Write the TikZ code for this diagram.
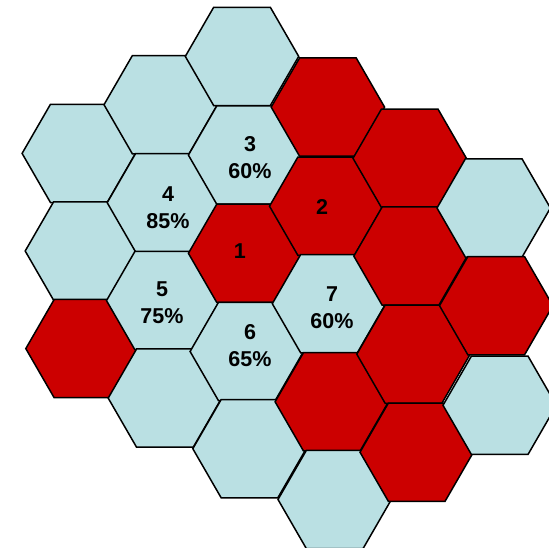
\documentclass[tikz,border=0pt]{standalone}
\usepackage{fontspec}
\setsansfont{Liberation Sans}
\usetikzlibrary{shapes.geometric}
\definecolor{cool}{HTML}{BAE0E3}
\definecolor{hot}{HTML}{CC0000}

\begin{document}
\begin{tikzpicture}[
  x=1pt, y=-1pt,
  every node/.style={font=\sffamily\bfseries},
  cell/.style={
    regular polygon, regular polygon sides=6,
    minimum size=113.4pt, inner sep=0pt, outer sep=0pt,
    draw=black, line width=1.5pt,
  },
  coolcell/.style={cell, fill=cool},
  hotcell/.style={cell, fill=hot},
  pct/.style={
    align=center, text=black, inner sep=0pt,
    font=\sffamily\bfseries\fontsize{21.5}{27}\selectfont,
  },
]
  \useasboundingbox (0,0) rectangle (549,548);

  % column A
  \node[coolcell] (hA1) at (78.8, 153.4) {};
  \node[coolcell] (hA2) at (81.9, 251.0) {};
  \node[hotcell]  (hA3) at (82.5, 348.6) {};

  % column B
  \node[coolcell] (hB1) at (160.7, 104.7) {};
  \node[coolcell] (hB2) at (163.9, 202.7) {};
  \node[coolcell] (hB3) at (163.2, 300.6) {};
  \node[coolcell] (hB4) at (164.9, 398.1) {};

  % column C
  \node[coolcell] (hC1) at (242.0,  56.4) {};
  \node[coolcell] (hC2) at (245.1, 155.1) {};
  \node[hotcell]  (hC3) at (245.1, 253.3) {};
  \node[coolcell] (hC4) at (246.8, 351.5) {};
  \node[coolcell] (hC5) at (249.5, 448.7) {};

  % column D
  \node[hotcell]  (hD1) at (327.9, 107.1) {};
  \node[hotcell]  (hD2) at (326.2, 206.2) {};
  \node[coolcell] (hD3) at (329.0, 303.7) {};
  \node[hotcell]  (hD4) at (331.8, 401.8) {};
  \node[coolcell] (hD5) at (334.7, 499.5) {};

  % column E
  \node[hotcell]  (hE1) at (409.7, 158.3) {};
  \node[hotcell]  (hE2) at (410.5, 256.1) {};
  \node[hotcell]  (hE3) at (413.5, 354.2) {};
  \node[hotcell]  (hE4) at (416.7, 452.2) {};

  % column F (cut by the right edge)
  \node[coolcell] (hF1) at (493.7, 208.0) {};
  \node[hotcell]  (hF2) at (496.2, 305.7) {};
  \node[coolcell] (hF3) at (499.7, 405.3) {};

  % numbers and shares
  \node[pct] (t1) at (239.8, 251.4) {1};
  \node[pct] (t2) at (322.0, 207.3) {2};
  \node[pct] (t3) at (250.0, 157.5) {3\\60\%};
  \node[pct] (t4) at (168.0, 208.0) {4\\85\%};
  \node[pct] (t5) at (162.0, 302.5) {5\\75\%};
  \node[pct] (t6) at (250.0, 346.0) {6\\65\%};
  \node[pct] (t7) at (332.0, 308.0) {7\\60\%};
\end{tikzpicture}
\end{document}
